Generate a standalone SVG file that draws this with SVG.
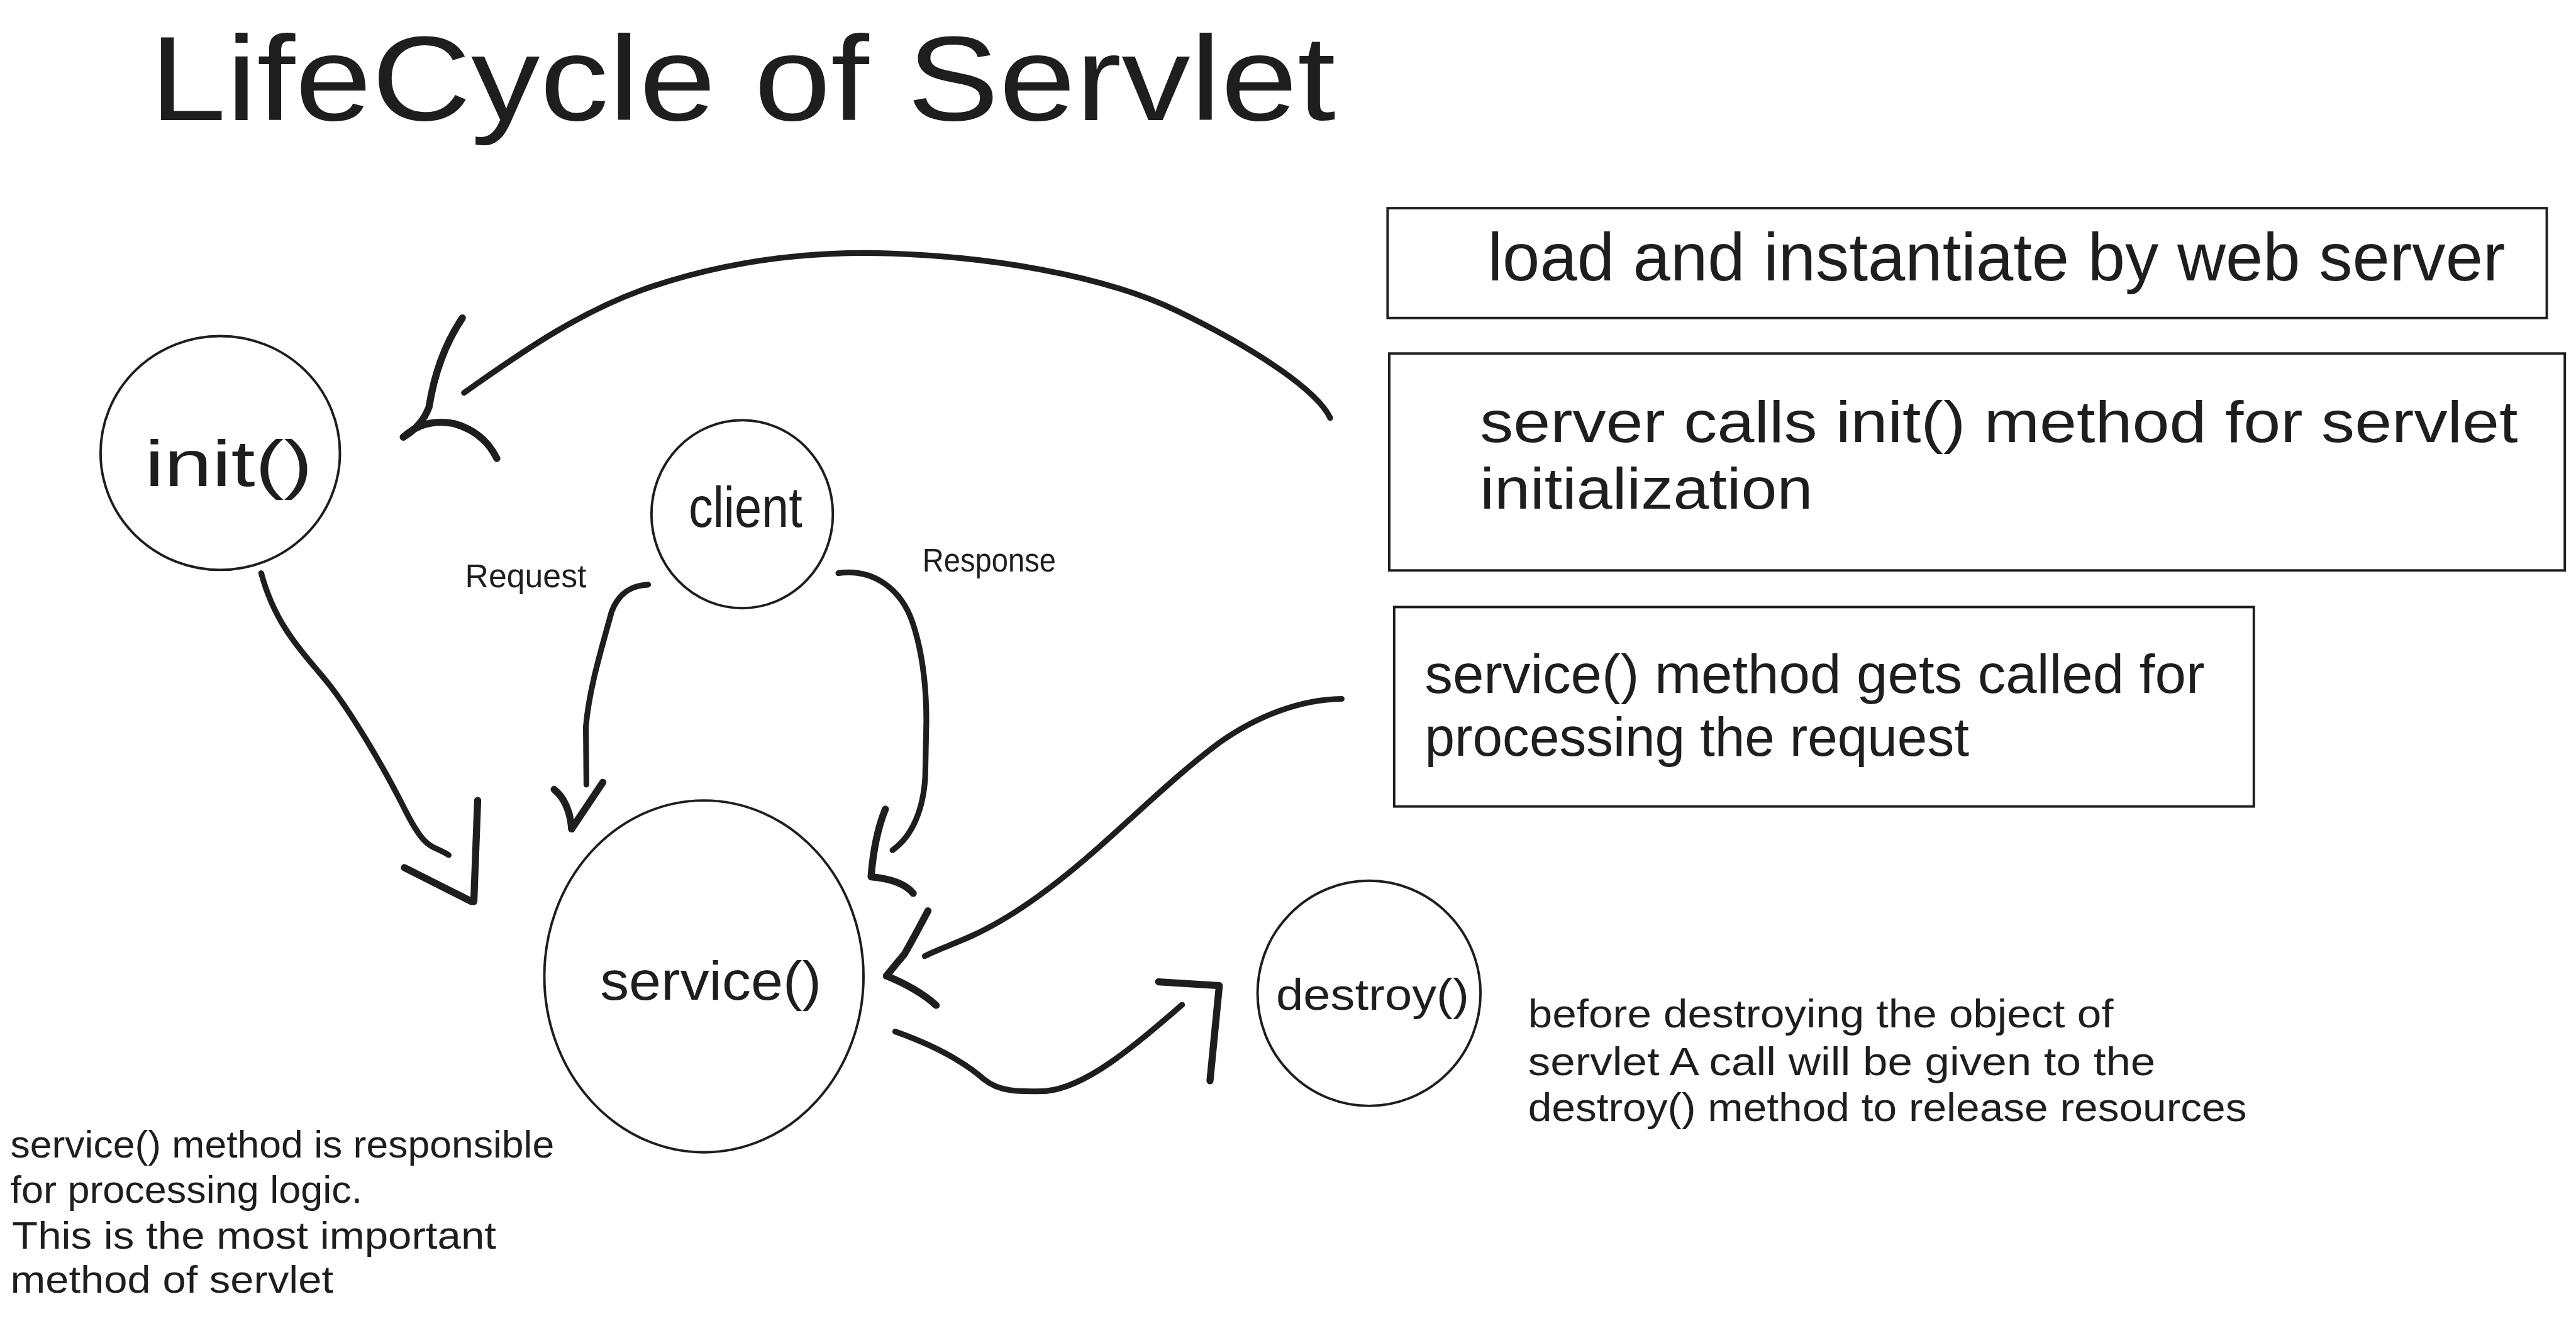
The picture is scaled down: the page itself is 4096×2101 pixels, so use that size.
<svg xmlns="http://www.w3.org/2000/svg" width="4096" height="2101" viewBox="0 0 4096 2101">
<style>
.t{font-family:"Liberation Sans",Arial,sans-serif;fill:#1e1e1e;}
.node{fill:none;stroke:#1e1e1e;stroke-width:4.5;}
.box{fill:none;stroke:#1e1e1e;stroke-width:4.5;}
.conn path{fill:none;stroke:#1e1e1e;stroke-width:10.5;stroke-linecap:round;stroke-linejoin:round;}
.conn .head{stroke-width:13;}
</style>
<rect x="0" y="0" width="4096" height="2101" fill="#ffffff"/>
<g transform="scale(0.869)">
  <g id="title">
    <text class="t" x="274" y="220" font-size="220" textLength="2170" lengthAdjust="spacingAndGlyphs">LifeCycle of Servlet</text>
  </g>

  <g id="node-init">
    <ellipse class="node" cx="403" cy="829" rx="219" ry="214"/>
    <text class="t" x="265" y="889" font-size="120" textLength="307" lengthAdjust="spacingAndGlyphs">init()</text>
  </g>

  <g id="node-client">
    <ellipse class="node" cx="1358" cy="941" rx="166" ry="172"/>
    <text class="t" x="1260" y="964" font-size="105" textLength="208" lengthAdjust="spacingAndGlyphs">client</text>
  </g>

  <g id="node-service">
    <ellipse class="node" cx="1288" cy="1787" rx="292" ry="322"/>
    <text class="t" x="1098" y="1830" font-size="100" textLength="405" lengthAdjust="spacingAndGlyphs">service()</text>
  </g>

  <g id="node-destroy">
    <ellipse class="node" cx="2505" cy="1818" rx="204" ry="206"/>
    <text class="t" x="2335" y="1848" font-size="82" textLength="353" lengthAdjust="spacingAndGlyphs">destroy()</text>
  </g>

  <g id="box-load">
    <rect class="box" x="2539" y="381" width="2121" height="201"/>
    <text class="t" x="2722" y="513" font-size="124" textLength="1862" lengthAdjust="spacingAndGlyphs">load and instantiate by web server</text>
  </g>

  <g id="box-init">
    <rect class="box" x="2542" y="647" width="2151" height="397"/>
    <text class="t" x="2708" y="809" font-size="106" textLength="1899" lengthAdjust="spacingAndGlyphs">server calls init() method for servlet</text>
    <text class="t" x="2708" y="931" font-size="106" textLength="609" lengthAdjust="spacingAndGlyphs">initialization</text>
  </g>

  <g id="box-service">
    <rect class="box" x="2551" y="1111" width="1573" height="365"/>
    <text class="t" x="2607" y="1268" font-size="100" textLength="1427" lengthAdjust="spacingAndGlyphs">service() method gets called for</text>
    <text class="t" x="2607" y="1383" font-size="100" textLength="996" lengthAdjust="spacingAndGlyphs">processing the request</text>
  </g>

  <g id="note-service">
    <text class="t" x="19" y="2119" font-size="70" textLength="995" lengthAdjust="spacingAndGlyphs">service() method is responsible</text>
    <text class="t" x="19" y="2201" font-size="70" textLength="644" lengthAdjust="spacingAndGlyphs">for processing logic.</text>
    <text class="t" x="22" y="2285" font-size="70" textLength="886" lengthAdjust="spacingAndGlyphs">This is the most important</text>
    <text class="t" x="19" y="2366" font-size="70" textLength="591" lengthAdjust="spacingAndGlyphs">method of servlet</text>
  </g>

  <g id="note-destroy">
    <text class="t" x="2796" y="1880" font-size="72" textLength="1071" lengthAdjust="spacingAndGlyphs">before destroying the object of</text>
    <text class="t" x="2796" y="1968" font-size="72" textLength="1148" lengthAdjust="spacingAndGlyphs">servlet A call will be given to the</text>
    <text class="t" x="2796" y="2052" font-size="72" textLength="1315" lengthAdjust="spacingAndGlyphs">destroy() method to release resources</text>
  </g>

  <g id="label-request">
    <text class="t" x="851" y="1075" font-size="60" textLength="222" lengthAdjust="spacingAndGlyphs">Request</text>
  </g>
  <g id="label-response">
    <text class="t" x="1688" y="1046" font-size="60" textLength="244" lengthAdjust="spacingAndGlyphs">Response</text>
  </g>

  <g id="connectors" class="conn">
    <!-- load box -> init -->
    <path d="M2434,765 C2410,715 2300,640 2156,570 S1800,470 1633,464 S1320,482 1194,524 S960,640 849,719"/>
    <path class="head" d="M846,582 Q800,650 785,745 Q772,780 738,800"/>
    <path class="head" d="M738,800 Q775,765 830,775 Q885,790 909,839"/>
    <!-- init -> service -->
    <path d="M478,1049 C505,1150 560,1200 600,1250 S700,1400 740,1480 S790,1545 821,1565"/>
    <path class="head" d="M874,1465 L867,1650"/>
    <path class="head" d="M740,1588 L863,1650"/>
    <!-- client -> service (Request) -->
    <path d="M1186,1070 C1150,1072 1130,1090 1119,1120 C1100,1190 1078,1260 1072,1330 L1073,1436"/>
    <path class="head" d="M1014,1445 Q1042,1468 1046,1517"/>
    <path class="head" d="M1046,1517 L1103,1432"/>
    <!-- client -> service (Response) -->
    <path d="M1534,1049 C1600,1040 1650,1080 1670,1140 C1690,1200 1695,1260 1695,1320 L1693,1420 C1690,1480 1670,1530 1633,1556"/>
    <path class="head" d="M1620,1481 Q1600,1530 1594,1603"/>
    <path class="head" d="M1594,1605 Q1650,1610 1671,1635"/>
    <!-- service box -> service -->
    <path d="M2455,1279 C2380,1280 2300,1310 2230,1360 C2150,1420 2080,1490 2000,1560 C1920,1630 1850,1680 1780,1712 C1740,1730 1710,1740 1692,1750"/>
    <path class="head" d="M1698,1667 Q1670,1720 1655,1746 Q1635,1770 1622,1786"/>
    <path class="head" d="M1622,1786 Q1680,1810 1713,1840"/>
    <!-- service -> destroy -->
    <path d="M1638,1888 C1700,1910 1760,1940 1800,1975 C1830,2000 1870,1998 1913,1997 C1990,1990 2080,1910 2163,1839"/>
    <path class="head" d="M2120,1797 L2231,1804 L2214,1978"/>
  </g>
</g>
</svg>
